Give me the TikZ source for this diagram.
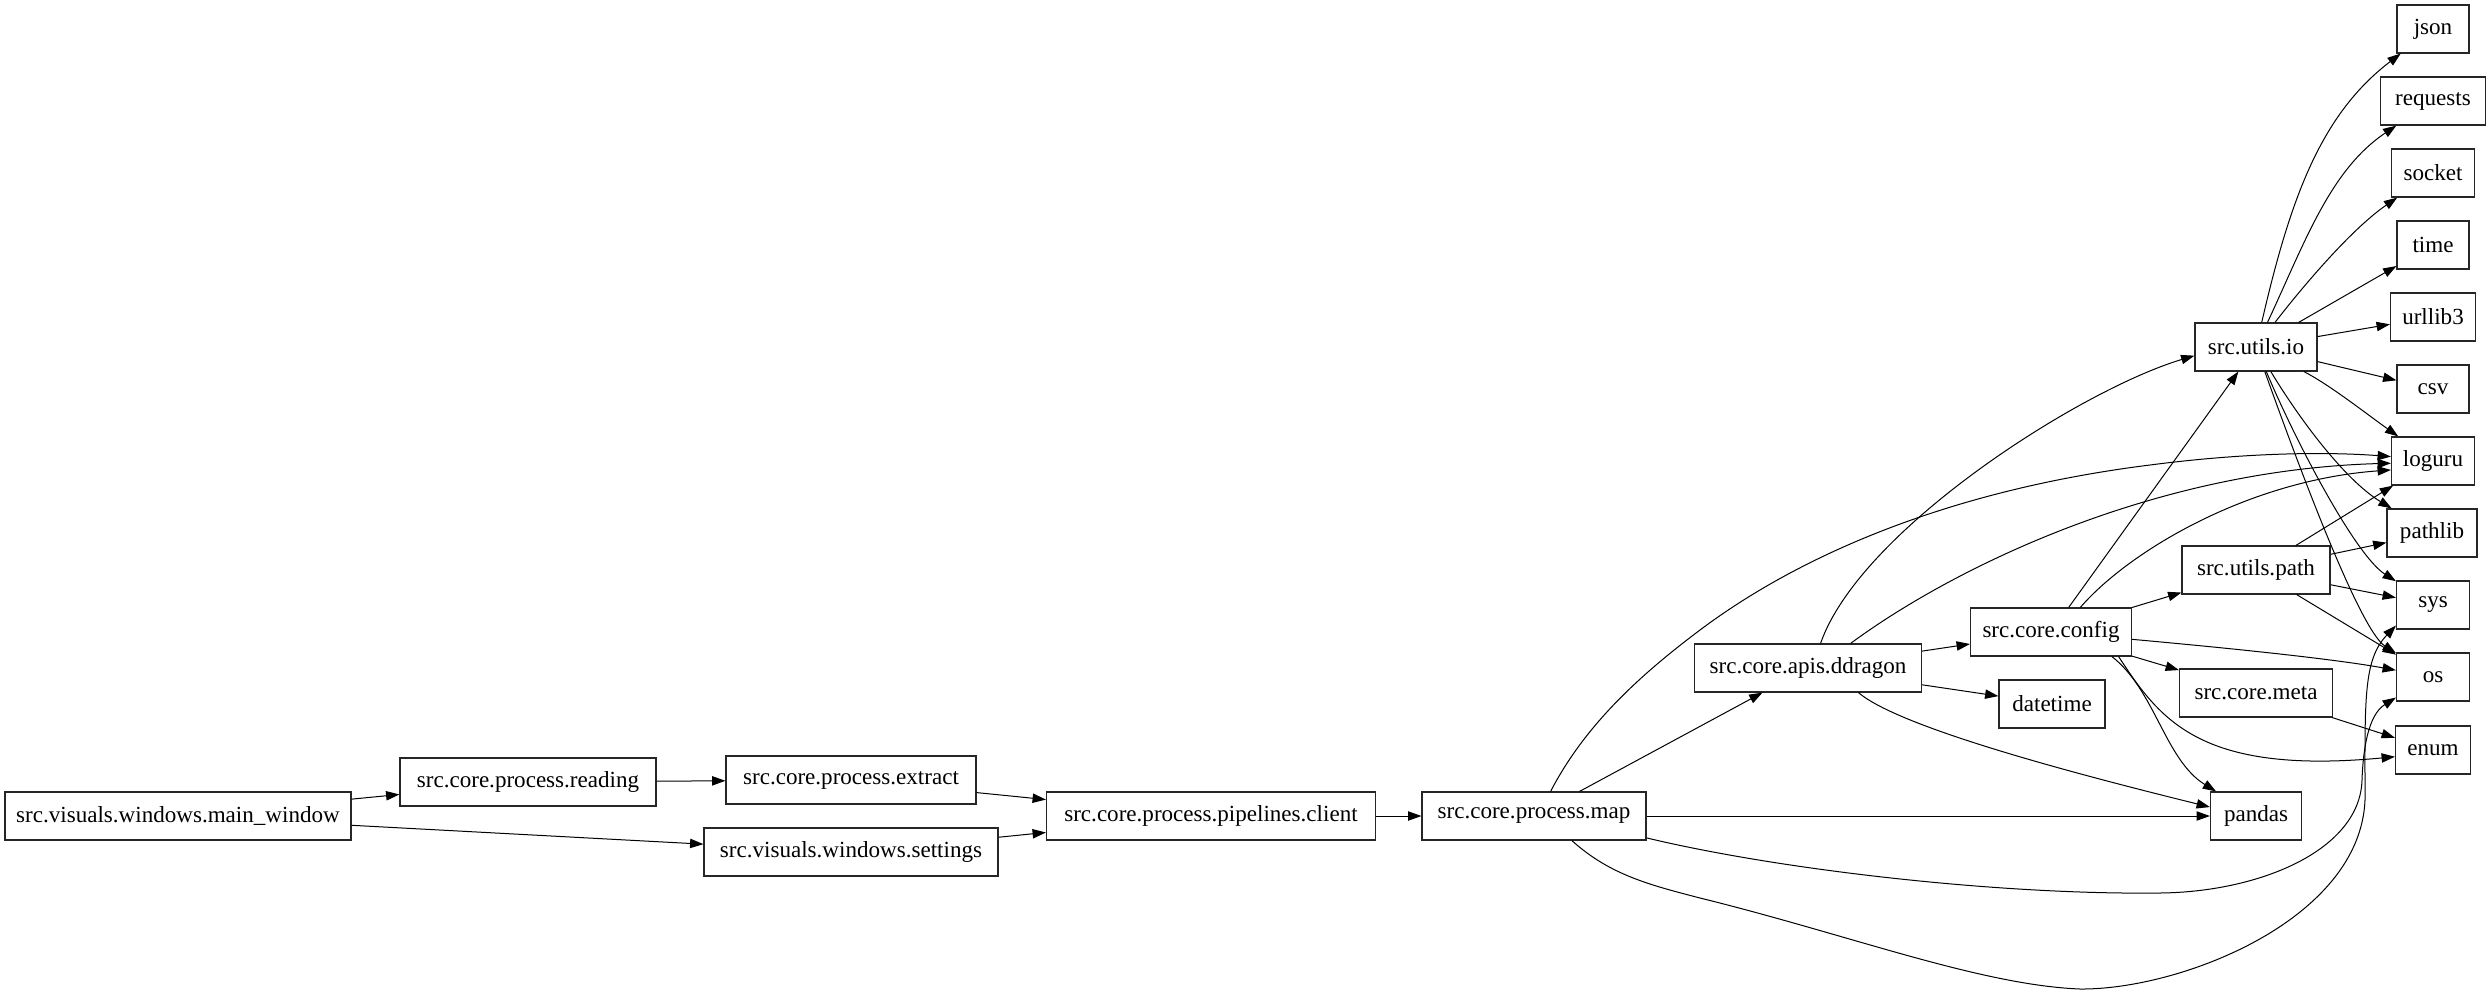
\documentclass[tikz,border=0pt]{standalone}
\usepackage{fontspec}
\setmainfont{Liberation Serif}
\usetikzlibrary{arrows.meta,calc}
\begin{document}
\begin{tikzpicture}[x=0.75pt,y=-0.75pt,
  box/.style={draw=black!85,line width=0.9pt,rectangle,minimum height=36pt,inner sep=0pt,font=\fontsize{17.3}{20}\selectfont},
  e/.style={line width=0.75pt,-{Triangle[length=10pt,width=7pt]}}]
\useasboundingbox (0,0) rectangle (2491,996);
\fill[white] (0,0) rectangle (2491,996);
% nodes
\node[box,minimum width=259.5pt] (mw) at (178,816) {src.visuals.windows.main\_window};
\node[box,minimum width=192pt] (reading) at (528,782) {src.core.process.reading};
\node[box,minimum width=187.5pt] (extract) at (851,780) {src.core.process.extract};
\node[box,minimum width=220.5pt] (settings) at (851,852) {src.visuals.windows.settings};
\node[box,minimum width=246.75pt] (client) at (1211,816) {src.core.process.pipelines.client};
\node[box,minimum width=168pt] (map) at (1534,816) {src.core.process.map};
\node[box,minimum width=170.25pt] (ddragon) at (1808,668) {src.core.apis.ddragon};
\node[box,minimum width=120.75pt] (config) at (2051,632) {src.core.config};
\node[box,minimum width=79.5pt] (datetime) at (2052,704) {datetime};
\node[box,minimum width=91.5pt] (io) at (2256,347) {src.utils.io};
\node[box,minimum width=111pt] (path) at (2256,570) {src.utils.path};
\node[box,minimum width=114.75pt] (meta) at (2256,693) {src.core.meta};
\node[box,minimum width=68.25pt] (pandas) at (2256,816) {pandas};
\node[box,minimum width=54pt] (json) at (2433,29) {json};
\node[box,minimum width=78.75pt] (requests) at (2433,101) {requests};
\node[box,minimum width=62.25pt] (socket) at (2433,173) {socket};
\node[box,minimum width=54pt] (time) at (2433,245) {time};
\node[box,minimum width=63.75pt] (urllib3) at (2433,317) {urllib3};
\node[box,minimum width=54pt] (csv) at (2433,389) {csv};
\node[box,minimum width=62.25pt] (loguru) at (2433,461) {loguru};
\node[box,minimum width=67.5pt] (pathlib) at (2432,533) {pathlib};
\node[box,minimum width=54.75pt] (sys) at (2433,605) {sys};
\node[box,minimum width=54.75pt] (os) at (2433,677) {os};
\node[box,minimum width=56.25pt] (enum) at (2433,750) {enum};
% edges
\draw[e] (mw) -- (reading);
\draw[e] (mw) -- (settings);
\draw[e] (reading) -- (extract);
\draw[e] (extract) -- (client);
\draw[e] (settings) -- (client);
\draw[e] (client) -- (map);
\draw[e] (map) -- (ddragon);
\draw[e] (map) -- (pandas);
\draw[e] (map.56) .. controls (1585,725) and (1640,675) .. (1700,630)
  .. controls (1800,555) and (1950,490) .. (2150,465)
  .. controls (2250,452) and (2330,452) .. (loguru.174);
\draw[e] (map.-11) .. controls (1780,870) and (2000,895) .. (2160,893)
  .. controls (2260,892) and (2360,850) .. (2362,780)
  .. controls (2363,750) and (2368,715) .. (os.209);
\draw[e] (map.-33) .. controls (1610,875) and (1650,885) .. (1700,898)
  .. controls (1850,935) and (1980,985) .. (2080,989)
  .. controls (2180,990) and (2360,920) .. (2365,800)
  .. controls (2365,700) and (2363,660) .. (sys.209);
\draw[e] (ddragon) -- (config);
\draw[e] (ddragon) -- (datetime);
\draw[e] (ddragon.-26) .. controls (1900,728) and (2080,775) .. (pandas.169);
\draw[e] (ddragon.63) .. controls (1860,530) and (2080,390) .. (io.188);
\draw[e] (ddragon.30) .. controls (1950,570) and (2150,470) .. (loguru.183);
\draw[e] (config) -- (io);
\draw[e] (config.40) .. controls (2130,550) and (2250,480) .. (loguru.192);
\draw[e] (config) -- (path);
\draw[e] (config) .. controls (2250,650) and (2340,660) .. (os);
\draw[e] (config) -- (meta);
\draw[e] (config.-22) .. controls (2155,690) and (2165,760) .. (pandas);
\draw[e] (config.-20) .. controls (2160,720) and (2200,775) .. (enum.190);
\draw[e] (io) .. controls (2290,200) and (2320,115) .. (json);
\draw[e] (io) .. controls (2305,242) and (2330,170) .. (requests);
\draw[e] (io) .. controls (2300,290) and (2350,230) .. (socket);
\draw[e] (io) -- (time);
\draw[e] (io) -- (urllib3);
\draw[e] (io) -- (csv);
\draw[e] (io) .. controls (2330,385) and (2368,415) .. (loguru);
\draw[e] (io) .. controls (2300,420) and (2345,480) .. (pathlib);
\draw[e] (io) .. controls (2295,440) and (2355,555) .. (sys);
\draw[e] (io) .. controls (2300,470) and (2360,630) .. (os);
\draw[e] (path) -- (loguru);
\draw[e] (path) -- (pathlib);
\draw[e] (path) -- (sys);
\draw[e] (path) -- (os);
\draw[e] (meta) -- (enum);
\end{tikzpicture}
\end{document}
